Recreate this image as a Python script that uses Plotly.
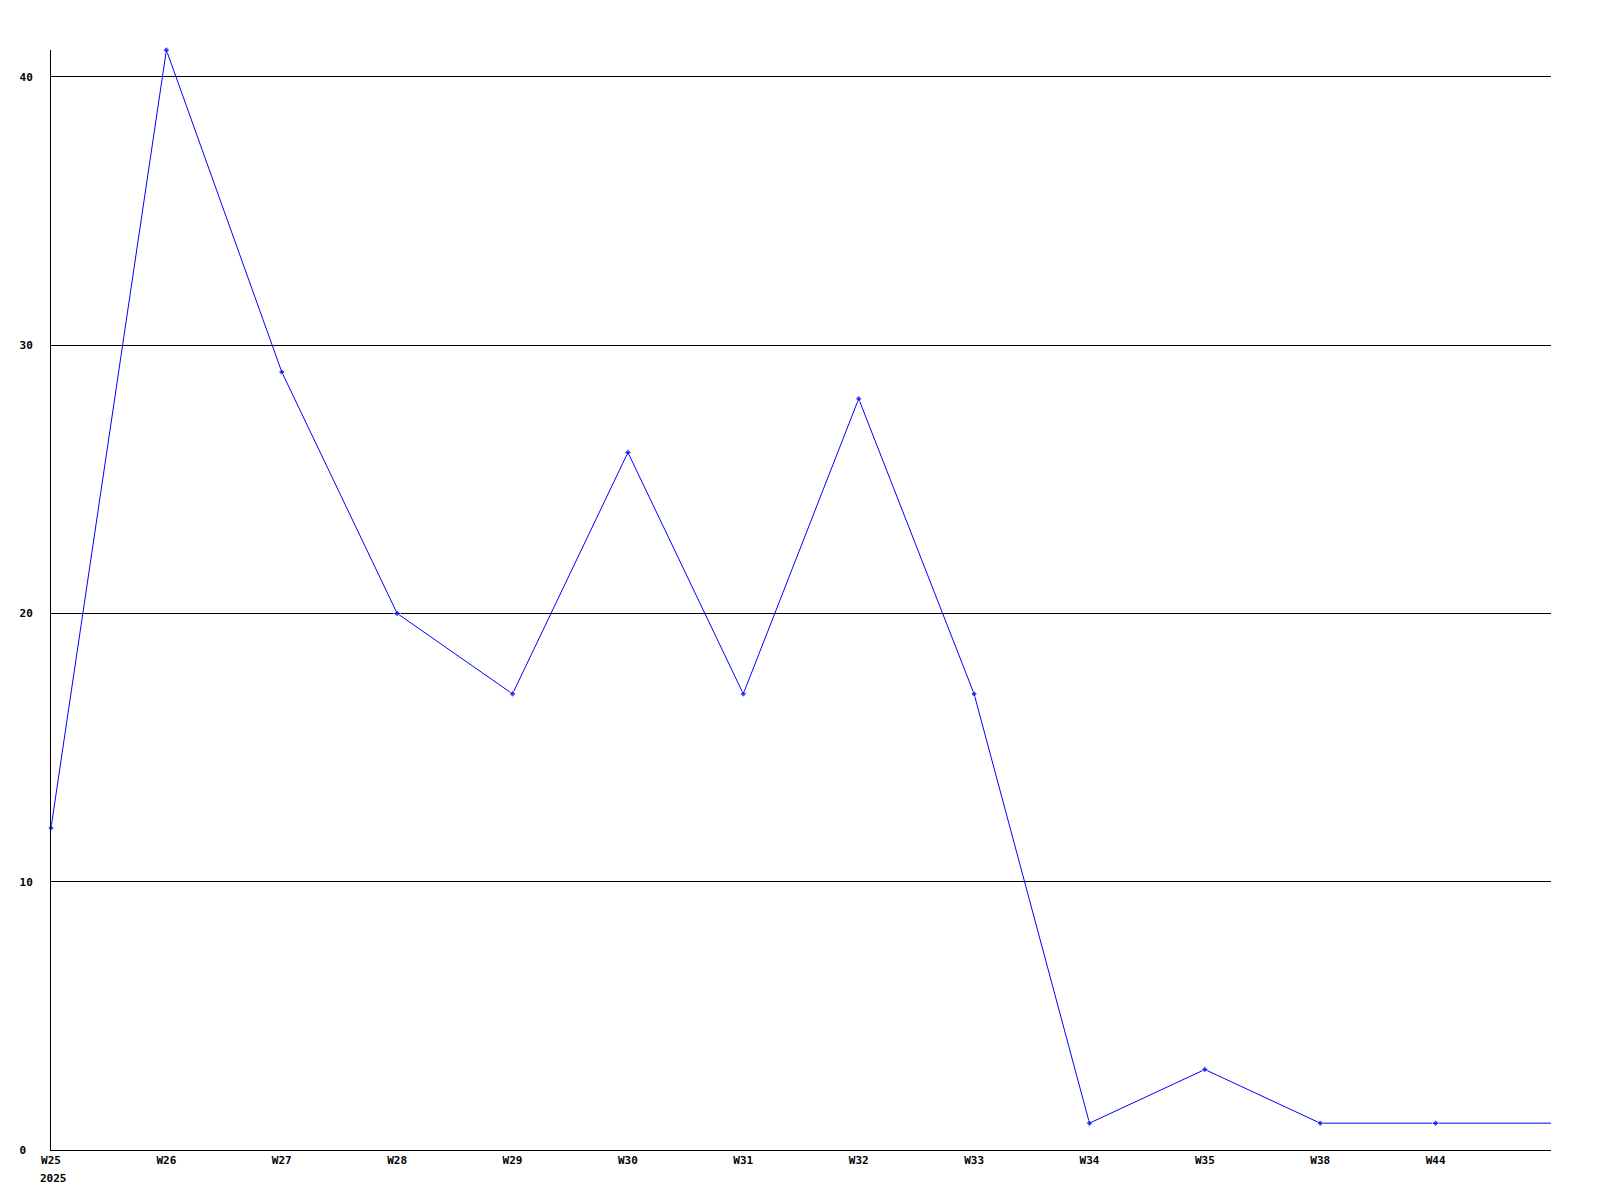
import plotly.graph_objects as go

weeks = ["W25", "W26", "W27", "W28", "W29", "W30", "W31", "W32", "W33", "W34", "W35", "W38", "W44", ""]
counts = [12, 41, 29, 20, 17, 26, 17, 28, 17, 1, 3, 1, 1, 1]
year_label = "2025"
y_ticks = [0, 10, 20, 30, 40]

font = dict(family="DejaVu Sans Mono", size=11, color="black", weight="bold")

x_pos = list(range(len(weeks)))
# last point sits on the right edge, drawn without a marker
sizes = [5] * (len(weeks) - 1) + [0]

fig = go.Figure()
fig.add_trace(go.Scatter(x=x_pos, y=counts,
                         mode='lines+markers',
                         line=dict(color='#0000ff', width=1),
                         marker=dict(color='#0000ff', size=sizes, symbol='diamond'),
                         cliponaxis=False,
                         showlegend=False))

fig.add_annotation(x=0, y=0, xref='x', yref='paper', text=year_label,
                   showarrow=False, xanchor='left', yanchor='top',
                   xshift=-13, yshift=-20, font=font)

# page body adds an 8px offset, so the figure is a bit smaller than the window
fig.update_layout(width=1584, height=1184,
                  margin=dict(l=43, r=41, t=42, b=42),
                  plot_bgcolor='white', paper_bgcolor='white',
                  font=font)
fig.update_xaxes(range=[0, len(weeks) - 1], tickvals=x_pos[:-1], ticktext=weeks[:-1],
                 showgrid=False, zeroline=False, showline=True,
                 linecolor='black', linewidth=1, ticks='', tickfont=font)
fig.update_yaxes(range=[0, 41], tickvals=y_ticks,
                 ticktext=[str(v).ljust(2, '\u00a0') for v in y_ticks],
                 showgrid=True, gridcolor='black', gridwidth=1,
                 zeroline=False, showline=True, linecolor='black', linewidth=1,
                 ticks='', ticklabelstandoff=15, tickfont=font)

fig.write_html("out.html")
